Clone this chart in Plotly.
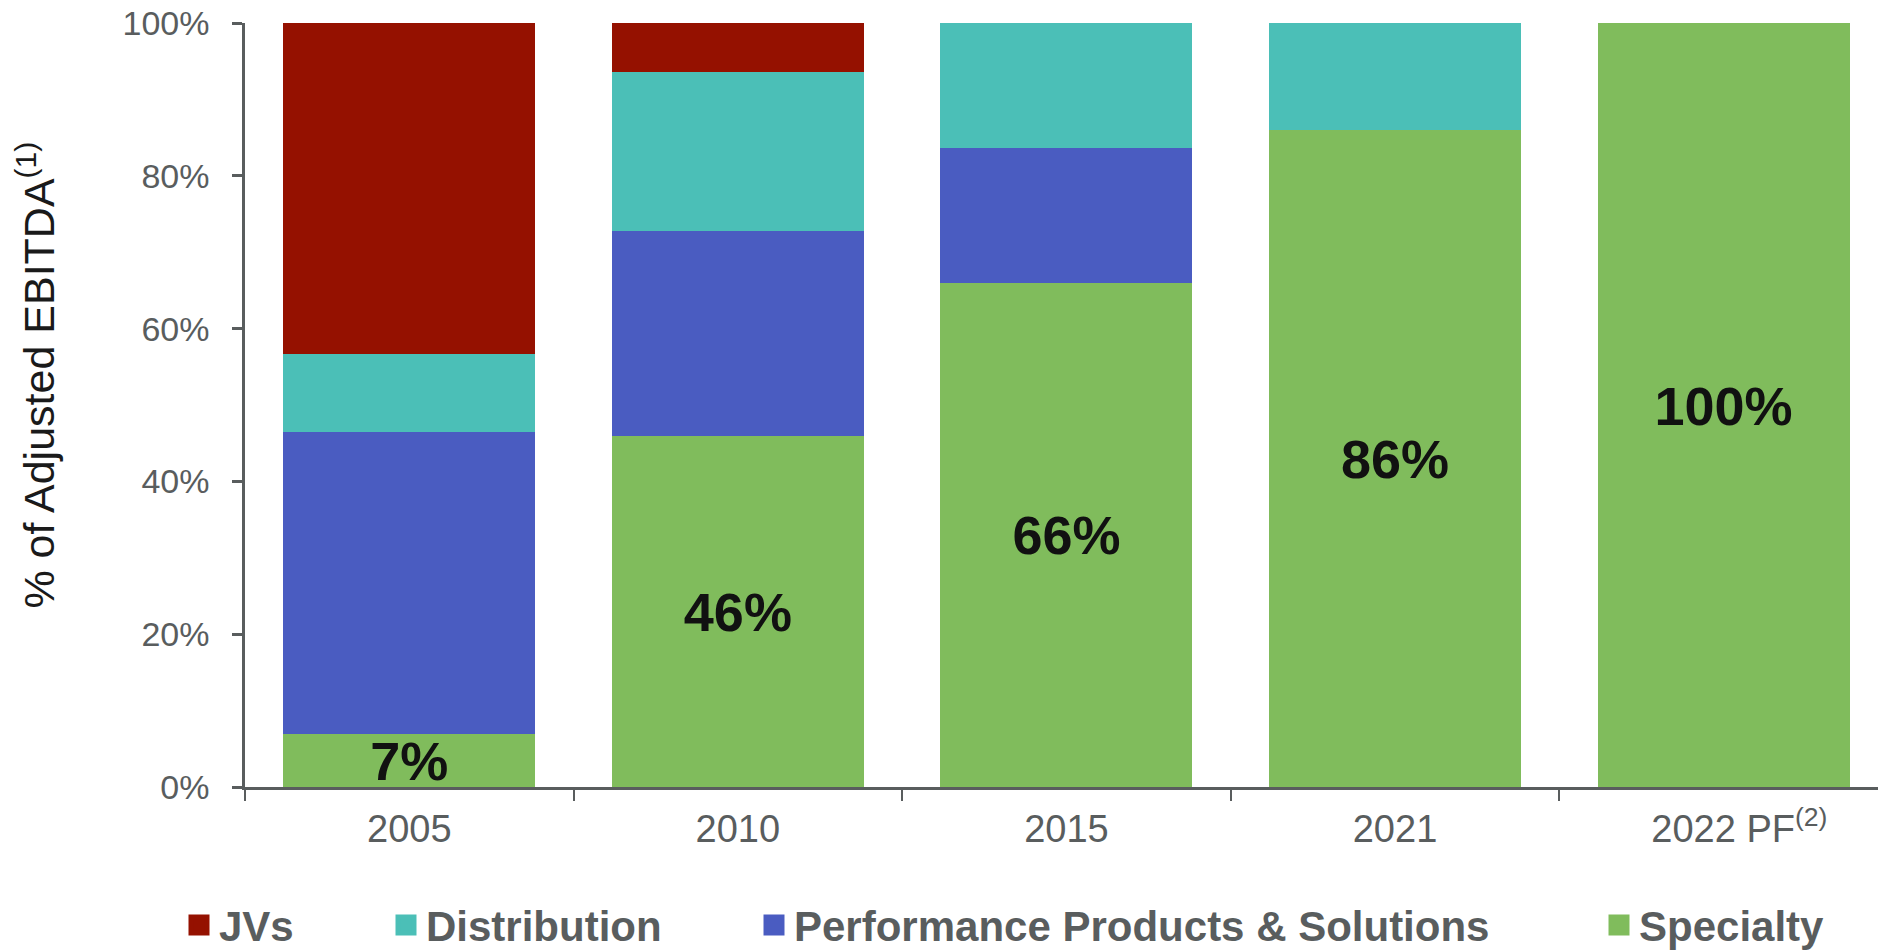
import plotly.graph_objects as go

categories = ["2005", "2010", "2015", "2021", "2022 PF"]
category_labels = ["2005", "2010", "2015", "2021", "&nbsp;&nbsp;&nbsp;2022 PF<sup>(2)</sup>"]
specialty = [7.0, 46.0, 66.0, 86.0, 100.0]
performance = [39.5, 26.8, 17.6, 0.0, 0.0]
distribution = [10.2, 20.8, 16.4, 14.0, 0.0]
jvs = [43.3, 6.4, 0.0, 0.0, 0.0]
specialty_labels = ["7%", "46%", "66%", "86%", "100%"]
y_ticks = [0, 20, 40, 60, 80, 100]
y_tick_labels = ["0%", "20%", "40%", "60%", "80%", "100%"]

series = [
    ("Specialty", specialty, "#80bc5c", "legend4"),
    ("Performance Products & Solutions", performance, "#4a5cc1", "legend3"),
    ("Distribution", distribution, "#4bbfb7", "legend2"),
    ("JVs", jvs, "#951100", "legend"),
]

FONT = "Liberation Sans, Arial, sans-serif"
GRAY = "#595d5e"

fig = go.Figure()
for name, vals, color, _ in series:
    fig.add_trace(go.Bar(
        x=categories, y=vals, name=name, marker=dict(color=color, line=dict(width=0)),
        showlegend=False, legendgroup=name, hoverinfo="x+y+name",
    ))

# legend entries
for name, vals, color, lg in series:
    fig.add_trace(go.Scatter(
        x=[None], y=[None], mode="markers", name=name, legend=lg, legendgroup=name,
        marker=dict(symbol="square", size=16, color=color, line=dict(color=color, width=5)),
    ))

# data labels for Specialty share (centred in the segment; small optical offset)
label_offset = 0.8
fig.add_trace(go.Scatter(
    x=categories, y=[v / 2 - label_offset for v in specialty], mode="text", text=specialty_labels,
    textposition="middle center", showlegend=False, hoverinfo="skip",
    textfont=dict(family=FONT, size=54, color="#111111", weight="bold"),
))

plot_left, plot_width = 245, 1878 - 245
def lx(px):
    return (px - plot_left) / plot_width

legend_common = dict(orientation="h", yanchor="middle", y=-0.181, xanchor="left",
                     bgcolor="rgba(0,0,0,0)", borderwidth=0,
                     font=dict(family=FONT, size=42, color=GRAY, weight="bold"))

fig.update_layout(
    width=1878, height=950,
    margin=dict(l=245, r=0, t=23, b=163, autoexpand=False),
    barmode="stack", bargap=0.233,
    plot_bgcolor="white", paper_bgcolor="white",
    font=dict(family=FONT, color=GRAY),
    legend=dict(x=lx(179), **legend_common),
    legend2=dict(x=lx(386), **legend_common),
    legend3=dict(x=lx(754), **legend_common),
    legend4=dict(x=lx(1599), **legend_common),
    xaxis=dict(
        range=[-0.5, 4.47], tickvals=categories, ticktext=category_labels,
        showline=True, linecolor=GRAY, linewidth=2.5,
        ticks="outside", tickson="boundaries", ticklen=11, tickwidth=2, tickcolor=GRAY,
        tickfont=dict(family=FONT, size=38, color=GRAY), ticklabelstandoff=7,
        showgrid=False, zeroline=False, fixedrange=True,
    ),
    yaxis=dict(
        range=[0, 100], tickvals=y_ticks, ticktext=y_tick_labels,
        showline=True, linecolor=GRAY, linewidth=2.5,
        ticks="outside", ticklen=10, tickwidth=2.5, tickcolor=GRAY,
        tickfont=dict(family=FONT, size=34, color=GRAY), ticklabelstandoff=16,
        showgrid=False, zeroline=False, automargin=False,
        title=dict(text="&nbsp;" * 5 + "% of Adjusted EBITDA<sup>(1)</sup>", standoff=55,
                   font=dict(family=FONT, size=43, color="#1a1a1a")),
    ),
)

fig.write_html("out.html", config={"displayModeBar": False},
               post_script="document.body.style.margin='0';document.body.style.overflow='hidden';")
